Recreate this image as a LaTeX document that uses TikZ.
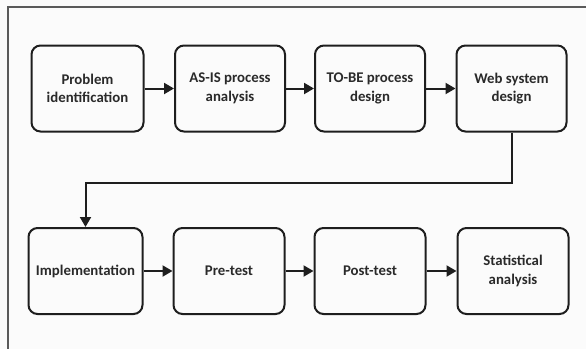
\documentclass[tikz,border=0pt]{standalone}
\usepackage{fontspec}
\setmainfont{Carlito}
\usetikzlibrary{arrows.meta}
\definecolor{bgc}{HTML}{FBFBFB}
\definecolor{linec}{HTML}{1E1E1E}
\definecolor{framec}{HTML}{5A5A5A}
\definecolor{textc}{HTML}{2A2A2A}
\begin{document}
\begin{tikzpicture}[x=1pt,y=-1pt,
  box/.style={draw=linec, line width=2pt, rounded corners=9pt, minimum height=86pt,
    align=center, text=textc, font=\bfseries\fontsize{14.8}{18.5}\selectfont},
  arr/.style={draw=linec, line width=2pt, -{Triangle[length=10pt,width=11pt]}}]
\fill[bgc] (0,0) rectangle (586,349);
\useasboundingbox (0,0) rectangle (586,349);
\draw[framec, line width=1.2pt] (586,7) -- (8,7) -- (8,349);
\node[box, minimum width=112pt] (b1) at (87.5,88.5) {Problem\\identification};
\node[box, minimum width=110pt] (b2) at (230,88.5) {AS-IS process\\analysis};
\node[box, minimum width=110pt] (b3) at (370,88.5) {TO-BE process\\design};
\node[box, minimum width=110pt] (b4) at (511.5,88.5) {Web system\\design};
\node[box, minimum width=114pt] (b5) at (85.5,271) {Implementation};
\node[box, minimum width=111pt] (b6) at (229,271) {Pre-test};
\node[box, minimum width=111pt] (b7) at (370,271) {Post-test};
\node[box, minimum width=111pt] (b8) at (513,271) {Statistical\\analysis};
\draw[arr] (b1) -- (b2);
\draw[arr] (b2) -- (b3);
\draw[arr] (b3) -- (b4);
\draw[arr] (b5) -- (b6);
\draw[arr] (b6) -- (b7);
\draw[arr] (b7) -- (b8);
\coordinate (elbow) at (0,183);
\draw[arr] (b4.south) -- (b4.south |- elbow) -| (b5.north);
\end{tikzpicture}
\end{document}
